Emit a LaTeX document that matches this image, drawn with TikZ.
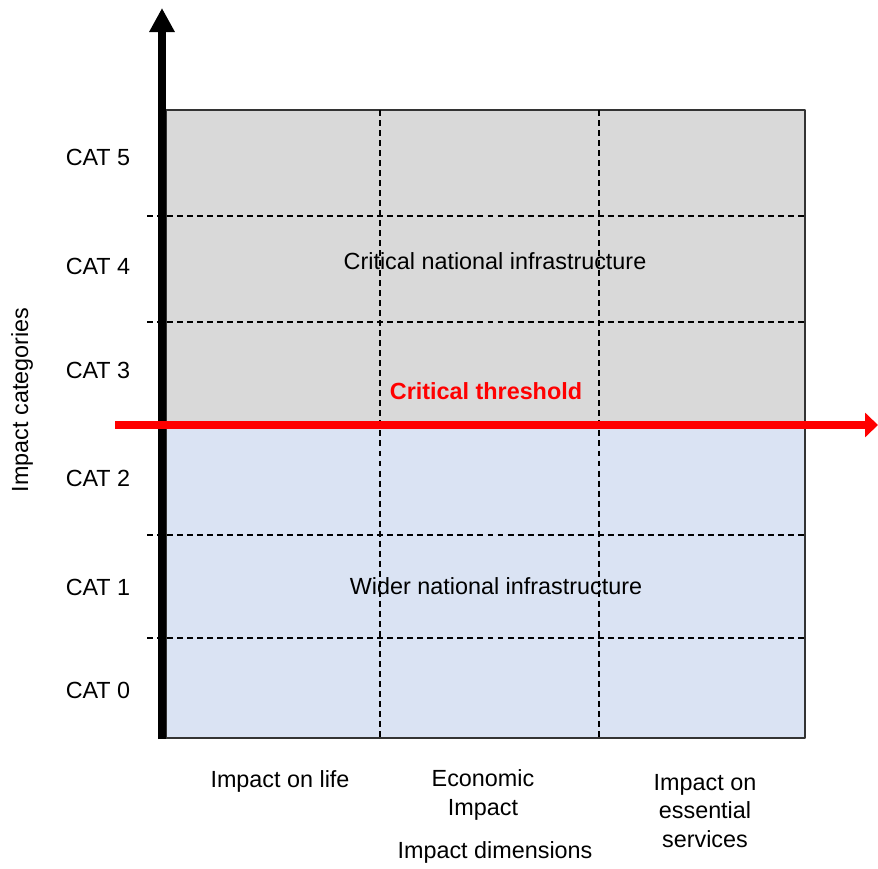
\documentclass[tikz,border=0pt]{standalone}
\usepackage{fontspec}
\setmainfont{Liberation Sans}
\usetikzlibrary{arrows.meta}
\definecolor{critgray}{HTML}{D9D9D9}
\definecolor{widerblue}{HTML}{DAE3F3}
\begin{document}
\begin{tikzpicture}[x=0.02cm, y=-0.02cm, font=\fontsize{13.3}{16}\selectfont, line join=round]
	\def\xl{166} \def\xr{805} % box
	\def\yt{110} \def\yb{738} \def\yc{425}
	\tikzset{grid line/.style={black, line width=0.6pt, dash pattern=on 3.4pt off 2.3pt},
		lbl/.style={align=center, inner sep=0pt}}
	\useasboundingbox (0,0) rectangle (878,868);
	\fill[critgray] (\xl,\yt) rectangle (\xr,\yc);
	\fill[widerblue] (\xl,\yc) rectangle (\xr,\yb);
	\draw[black!80, line width=0.6pt] (\xl,\yt) rectangle (\xr,\yb);
	\foreach \y in {216,322,535,638}
		\draw[grid line] (147,\y)--(\xr,\y);
	\foreach \x in {380,599}
		\draw[grid line] (\x,\yt)--(\x,\yb);
	% axis
	\draw[line width=4.6pt, -{Triangle[width=13.7pt,length=13.7pt]}] (162,\yb+1)--(162,8);
	% threshold
	\draw[red, line width=4.6pt, -{Triangle[width=13.7pt,length=7.4pt]}] (115,\yc)--(878,\yc);
	\foreach \n/\y in {5/157,4/266,3/370,2/478,1/587,0/690}
		\node[lbl] (cat\n) at (98,\y) {CAT \n};
	\node[lbl] (cni) at (495,261) {Critical national infrastructure};
	\node[lbl] (wni) at (496,586) {Wider national infrastructure};
	\node[lbl, red, font=\fontsize{13.3}{16}\selectfont\bfseries] (thr) at (486,391) {Critical threshold};
	\node[lbl, rotate=90] (ycat) at (22,400) {Impact categories};
	\node[lbl] (life) at (280,781) {Impact on life};
	\node[lbl] (econ) at (483,795) {Economic\\Impact};
	\node[lbl] (serv) at (705,811) {Impact on\\essential\\services};
	\node[lbl] (xdim) at (495,852) {Impact dimensions};
\end{tikzpicture}
\end{document}
